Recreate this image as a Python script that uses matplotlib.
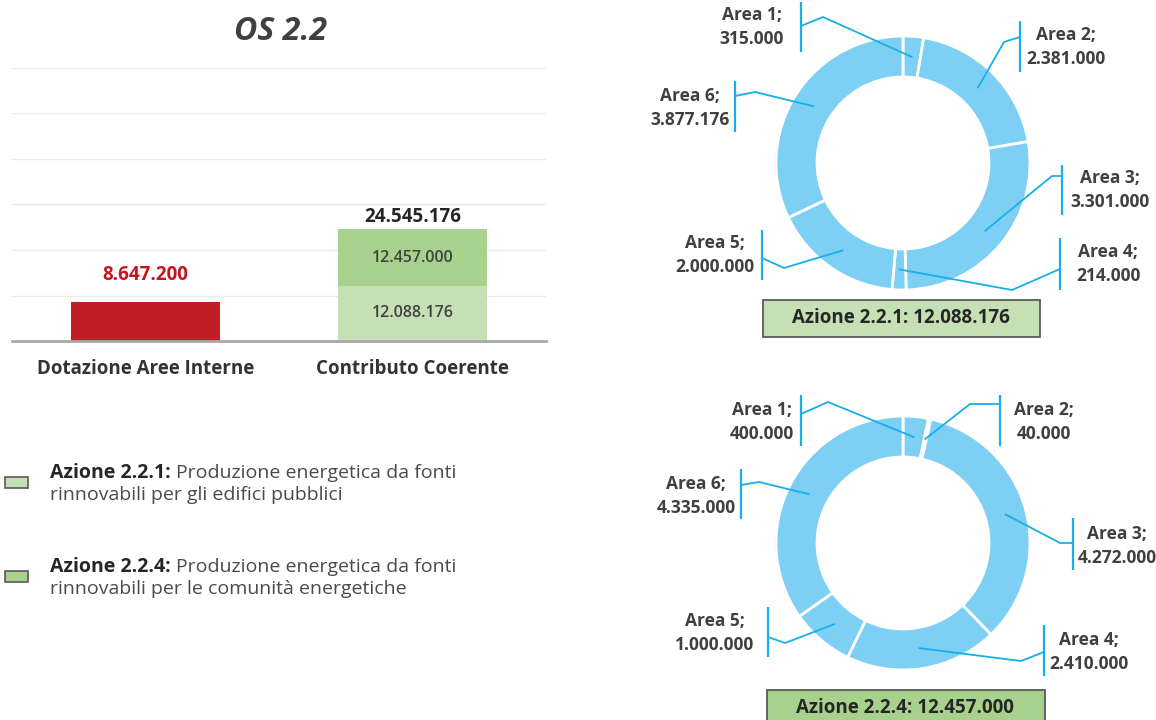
import matplotlib
matplotlib.use("Agg")
import matplotlib.pyplot as plt
from matplotlib.patches import Rectangle
import numpy as np

# ---------------- data ----------------
bar_categories = ["Dotazione Aree Interne", "Contributo Coerente"]
dotazione_aree_interne = 8647200
contributo_azione_221 = 12088176
contributo_azione_224 = 12457000

area_labels = ["Area 1", "Area 2", "Area 3", "Area 4", "Area 5", "Area 6"]
azione_221_values = [315000, 2381000, 3301000, 214000, 2000000, 3877176]
azione_224_values = [400000, 40000, 4272000, 2410000, 1000000, 4335000]

title_text = "OS 2.2"
azione_names = ["Azione 2.2.1", "Azione 2.2.4"]
legend_line1 = ["Produzione energetica da fonti", "Produzione energetica da fonti"]
legend_line2 = ["rinnovabili per gli edifici pubblici", "rinnovabili per le comunità energetiche"]

# ---------------- style ----------------
plt.rcParams['font.family'] = ['Open Sans', 'DejaVu Sans']
RED = "#be1e24"
RED_TXT = "#c4161e"
LIGHT_GREEN = "#c5e0b4"
MID_GREEN = "#a9d18e"
BLUE = "#7ecff4"
LINE_BLUE = "#16afe9"
TXT = "#404040"
EDGE = "#5a5a5a"

W, H = 1156, 720


def fmt(v):
    return f"{int(round(v)):,}".replace(",", ".")


fig = plt.figure(figsize=(W / 100, H / 100), dpi=100)
fig.patch.set_facecolor("white")

# overlay axes in pixel coordinates (y measured upward)
axo = fig.add_axes([0, 0, 1, 1])
axo.set_facecolor("none")


def py(y):
    return H - y


def reset_overlay():
    axo.set_xlim(0, W)
    axo.set_ylim(0, H)
    axo.set_aspect("auto")
    axo.axis("off")


reset_overlay()

# ---------------- bar chart ----------------
axb = fig.add_axes([12 / W, (H - 341) / H, 534 / W, 273 / H])
axb.set_facecolor("none")
bw = 0.555
axb.bar(0, dotazione_aree_interne, width=bw, color=RED, zorder=2)
axb.bar(1, contributo_azione_221, width=bw, color=LIGHT_GREEN, zorder=2)
axb.bar(1, contributo_azione_224, bottom=contributo_azione_221, width=bw,
        color=MID_GREEN, zorder=2)
axb.set_xlim(-0.5, 1.5)
axb.set_ylim(0, 60e6)
axb.set_yticks(np.arange(0, 60e6 + 1, 10e6))
axb.yaxis.grid(True, color="#ebebeb", linewidth=1)
axb.set_axisbelow(True)
for s in ["top", "right", "left"]:
    axb.spines[s].set_visible(False)
axb.spines["bottom"].set_color("#a8a8a8")
axb.spines["bottom"].set_linewidth(2)
axb.spines["bottom"].set_zorder(3)
axb.tick_params(axis="y", length=0, labelleft=False)
axb.tick_params(axis="x", length=0, pad=13)
axb.set_xticks([0, 1])
axb.set_xticklabels(bar_categories, fontsize=13.5, fontweight="bold", color="#333333")

axb.annotate(fmt(dotazione_aree_interne), xy=(0, dotazione_aree_interne),
             xytext=(0, 19), textcoords="offset points", ha="center", va="center",
             fontsize=13.5, fontweight="bold", color=RED_TXT)
total = contributo_azione_221 + contributo_azione_224
axb.annotate(fmt(total), xy=(1, total), xytext=(0, 9), textcoords="offset points",
             ha="center", va="center", fontsize=13.5, fontweight="bold", color="#262626")
axb.text(1, contributo_azione_221 / 2, fmt(contributo_azione_221), ha="center", va="center",
         fontsize=11.5, fontweight="semibold", color=TXT, zorder=4)
axb.text(1, contributo_azione_221 + contributo_azione_224 / 2, fmt(contributo_azione_224),
         ha="center", va="center", fontsize=11.5, fontweight="semibold", color=TXT, zorder=4)

# ---------------- title ----------------
axo.text(281, py(32), title_text, ha="center", va="center", fontsize=23,
         fontweight="bold", fontstyle="italic", color=TXT)

# ---------------- donuts ----------------
R_OUT, R_IN = 127, 86
donuts = [
    dict(values=azione_221_values, center=(903, 163), name=azione_names[0],
         box=(763, 300, 277, 37), box_color=LIGHT_GREEN, box_text=(901, 318),
         layout=[  # text center, bracket x, bracket y0, y1, attach y, elbow
             ((752, 27), 801, 2, 52, 26, (823, 17)),
             ((1066, 47), 1020, 21, 72, 37, (1004, 42)),
             ((1110, 190), 1062, 165, 215, 176, (1052, 176)),
             ((1108, 264), 1060, 238, 290, 269, (1012, 290)),
             ((715, 255), 762, 230, 280, 258, (784, 268)),
             ((690, 108), 735, 81, 132, 96, (755, 92)),
         ]),
    dict(values=azione_224_values, center=(903, 543), name=azione_names[1],
         box=(767, 690, 278, 37), box_color=MID_GREEN, box_text=(905, 708),
         layout=[
             ((762, 422), 801, 395, 446, 414, (828, 402)),
             ((1044, 422), 1000, 395, 446, 404, (970, 404)),
             ((1117, 546), 1073, 518, 570, 543, (1060, 543)),
             ((1089, 652), 1044, 625, 676, 652, (1021, 661)),
             ((715, 633), 768, 607, 657, 637, (785, 643)),
             ((696, 496), 741, 469, 519, 485, (759, 482)),
         ]),
]

for d in donuts:
    cx, cy = d["center"]
    wedges, _ = axo.pie(d["values"], radius=R_OUT, center=(cx, py(cy)), startangle=90,
                        counterclock=False, colors=[BLUE] * len(d["values"]),
                        wedgeprops=dict(width=R_OUT - R_IN, edgecolor="white",
                                        linewidth=2))
    r_mid = (R_OUT + R_IN) / 2
    for wdg, lab, val, lay in zip(wedges, area_labels, d["values"], d["layout"]):
        (tx, ty), bx, by0, by1, ay, (ex, ey) = lay
        ang = np.deg2rad((wdg.theta1 + wdg.theta2) / 2)
        axp = cx + r_mid * np.cos(ang)
        ayp = py(cy) + r_mid * np.sin(ang)
        axo.plot([bx, bx], [py(by0), py(by1)], color=LINE_BLUE, lw=1.6,
                 solid_capstyle="butt")
        axo.plot([bx, ex, axp], [py(ay), py(ey), ayp], color=LINE_BLUE, lw=1.3)
        axo.text(tx, py(ty), f"{lab};\n{fmt(val)}", ha="center", va="center",
                 fontsize=12.5, fontweight="bold", color=TXT, linespacing=1.4)
    bx0, by0, bwid, bh = d["box"]
    axo.add_patch(Rectangle((bx0, py(by0 + bh)), bwid, bh, facecolor=d["box_color"],
                            edgecolor=EDGE, linewidth=1.3, zorder=3))
    tx, ty = d["box_text"]
    axo.text(tx, py(ty), f"{d['name']}: {fmt(sum(d['values']))}", ha="center",
             va="center", fontsize=13.5, fontweight="bold", color="#262626", zorder=4)

reset_overlay()

# ---------------- legend ----------------
renderer = fig.canvas.get_renderer()
legend_layout = [  # square top, line1 baseline, line2 baseline
    (477, 478, 500),
    (571, 572, 594),
]
legend_colors = [LIGHT_GREEN, MID_GREEN]
for i in range(2):
    sq_top, b1, b2 = legend_layout[i]
    axo.add_patch(Rectangle((5, py(sq_top + 11)), 23, 11, facecolor=legend_colors[i],
                            edgecolor=EDGE, linewidth=1.2))
    tb = axo.text(50, py(b1), azione_names[i] + ": ", ha="left", va="baseline",
                  fontsize=14, fontweight="bold", color="#262626")
    ext = tb.get_window_extent(renderer=renderer)
    x_end = axo.transData.inverted().transform((ext.x1, ext.y0))[0]
    axo.text(x_end, py(b1), legend_line1[i], ha="left", va="baseline",
             fontsize=14, color="#4a4a4a")
    axo.text(50, py(b2), legend_line2[i], ha="left", va="baseline",
             fontsize=14, color="#4a4a4a")

fig.savefig("out.png", dpi=100, facecolor="white")
